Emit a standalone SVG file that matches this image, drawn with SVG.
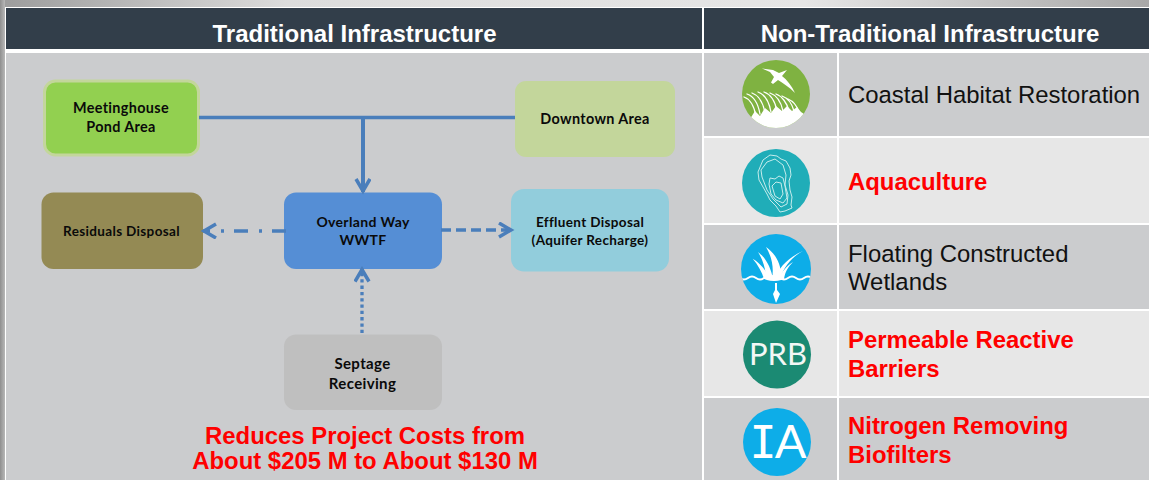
<svg xmlns="http://www.w3.org/2000/svg" width="1149" height="480" viewBox="0 0 1149 480">
<style>
.hd{font:bold 24px "Liberation Sans",Arial,sans-serif;fill:#fff;text-anchor:middle}
.nl{font:bold 13.5px Lato,"Open Sans",sans-serif;fill:#0a0a0a;text-anchor:middle;letter-spacing:.35px}
.n14{font-size:14.4px}
.n15{font-size:15px}
.it{font:23.9px "Liberation Sans",Arial,sans-serif;fill:#111}
.rd{font:bold 23.9px "Liberation Sans",Arial,sans-serif;fill:#f00}
.bt{font:bold 23.9px "Liberation Sans",Arial,sans-serif;fill:#f00;text-anchor:middle}
.cl{fill:#cbccce}.lt{fill:#e7e7e7}
.ic{font:31px Lato,"Open Sans",sans-serif;fill:#f2f7f5;text-anchor:middle}
.cn{fill:none;stroke:#4a7ebb;stroke-width:3.3}
.oy{fill:none;stroke:#c5ecec;stroke-width:1}
.gr{fill:none;stroke:#fff;stroke-width:1.300;stroke-linecap:round}
</style>
<defs>
<linearGradient id="top" x1="0" x2="1" y1="0" y2="0"><stop offset="0" stop-color="#9c9c9c"/><stop offset=".25" stop-color="#dcdcdc"/><stop offset=".7" stop-color="#e6e6e6"/><stop offset="1" stop-color="#a8a8a8"/></linearGradient>
<linearGradient id="lft" x1="0" x2="1" y1="0" y2="0"><stop offset="0" stop-color="#8f8f8f"/><stop offset="1" stop-color="#b8b8b8"/></linearGradient>
<marker id="arr" markerUnits="userSpaceOnUse" markerWidth="18" markerHeight="18" refX="15" refY="8" orient="auto"><path d="M2 1L14 8L2 15" fill="none" stroke="#4a7ebb" stroke-width="3.5"/></marker>
<clipPath id="c1"><circle cx="776" cy="94" r="34"/></clipPath>
<clipPath id="c3"><circle cx="776" cy="269" r="35"/></clipPath>
</defs>
<rect width="1149" height="480" fill="#fff"/>
<rect width="1149" height="7" fill="url(#top)"/>
<rect width="5" height="480" fill="url(#lft)"/>
<rect x="6" y="8" width="696" height="41" fill="#323e4a"/>
<rect x="704" y="8" width="445" height="41" fill="#323e4a"/>
<text class="hd" x="354.500" y="41.500">Traditional Infrastructure</text>
<text class="hd" x="930" y="41.500">Non-Traditional Infrastructure</text>
<rect x="6" y="53" width="696" height="427" class="cl"/>
<g id="row1"><rect x="704" y="53" width="133" height="83" class="cl"/><rect x="839" y="53" width="310" height="83" class="cl"/>
<circle cx="776" cy="94" r="34" fill="#7fb241"/>
<g clip-path="url(#c1)">
<path class="gr" d="M744 97C750 99 754 106 756 116"/>
<path class="gr" d="M747 94C753 96 758 103 760 114"/>
<path class="gr" d="M752 93C758 95 763 102 765 113"/>
<path class="gr" d="M758 92C764 94 769 101 771 112"/>
<path class="gr" d="M764 92C770 94 775 101 777 111"/>
<path class="gr" d="M770 93C776 95 781 102 783 111"/>
<path class="gr" d="M776 94C782 96 787 103 789 111"/>
<path class="gr" d="M782 96C788 98 792 104 794 111"/>
<path class="gr" d="M788 99C793 101 797 106 799 112"/>
<path fill="#fff" d="M740 132L750 119L755 111L760 116L765 108L771 113L776 106L782 111L787 106L792 111L797 107L801 112L807 116L808 132Z"/>
</g>
<path fill="#fff" d="M762 68.500L773 70L779 73L787 70L782 76C787 80 792 86 795 93C789 87 783 83 778 80L773 84L771 82.500L774 77L770 72Z"/>
</g>
<g id="row2"><rect x="704" y="138" width="133" height="85" class="lt"/><rect x="839" y="138" width="310" height="85" class="lt"/>
<circle cx="776" cy="183" r="34" fill="#20adb8"/>
<path class="oy" d="M763 160L770 155L777 156L781 159L786 161L790 168L791 175L789 181L790 190L792 197L791 205L792 208L785 211L780 212L776 206L770 200L767 194L763 187L759 180L758 172Z"/>
<path class="oy" d="M767 162L775 159L783 165L786 175L785 185L788 195L787 204L781 207L773 199L767 190L762 177L761 170Z"/>
<path class="oy" d="M769 184L770 178L775 179L779 176L783 178L785 186L787 198L783 203L776 200L771 194Z"/>
<path class="oy" d="M772 186L776 182L781 183L783 194L780 199L775 196Z"/>
</g>
<g id="row3"><rect x="704" y="225" width="133" height="84" class="cl"/><rect x="839" y="225" width="310" height="84" class="cl"/>
<circle cx="776" cy="269" r="35" fill="#0dade8"/>
<g fill="#fff">
<path d="M752.700 258.700C760 263 766 270 770 279L764 279C762 272 758 265 752.700 258.700Z"/>
<path d="M758 252C766 258 771 268 773 279L766 279C766 270 763 260 758 252Z"/>
<path d="M766 247C776 254 782 265 781 279L772 279C774 268 772 257 766 247Z"/>
<path d="M803 251C793 256 784 266 780 279L775 279C778 268 789 257 803 251Z"/>
<path d="M793 262C788 267 785 272 784 279L779 279C781 272 787 266 793 262Z"/>
<ellipse cx="774" cy="278" rx="10" ry="3"/>
</g>
<g clip-path="url(#c3)"><path d="M740 278q4 3 8 0t8 0 8 0 8 0h8q4 3 8 0t8 0 8 0 8 0" fill="none" stroke="#fff" stroke-width="2"/></g>
<path fill="#fff" d="M775 283L777 283L777 290L780 294L776 303L773 294L775 290Z"/>
</g>
<g id="row4"><rect x="704" y="311" width="133" height="85" class="lt"/><rect x="839" y="311" width="310" height="85" class="lt"/>
<circle cx="777" cy="354.500" r="34" fill="#1b8a73"/>
<text class="ic" x="778" y="365">PRB</text></g>
<g id="row5"><rect x="704" y="398" width="133" height="82" class="cl"/><rect x="839" y="398" width="310" height="82" class="cl"/>
<circle cx="777" cy="442" r="34" fill="#0dade8"/>
<text class="ic" x="778" y="458" style="font-size:47px;fill:#fff"><tspan style="font-family:'DejaVu Sans Mono',monospace;font-size:45px">I</tspan><tspan dx="-2">A</tspan></text></g>
<text class="it" x="848" y="103">Coastal Habitat Restoration</text>
<text class="rd" x="848" y="190">Aquaculture</text>
<text class="it" x="848" y="262">Floating Constructed</text>
<text class="it" x="848" y="290">Wetlands</text>
<text class="rd" x="848" y="348">Permeable Reactive</text>
<text class="rd" x="848" y="377">Barriers</text>
<text class="rd" x="848" y="434">Nitrogen Removing</text>
<text class="rd" x="848" y="463">Biofilters</text>
<g id="meetinghouse"><rect x="44.500" y="81" width="154" height="74" rx="11" fill="#92d050" stroke="#c3d69b" stroke-width="3"/>
<text class="nl n14" x="121" y="113">Meetinghouse</text><text class="nl n14" x="121" y="132">Pond Area</text></g>
<g id="downtown"><rect x="515" y="81" width="160" height="76" rx="11" fill="#c3d69b"/><text class="nl n14" x="595" y="124">Downtown Area</text></g>
<g id="residuals"><rect x="41.500" y="192.500" width="161.500" height="76.500" rx="12" fill="#948a54"/><text class="nl" x="121.500" y="236">Residuals Disposal</text></g>
<g id="overland"><rect x="284" y="192.500" width="158" height="76.500" rx="12" fill="#558ed5"/><text class="nl" x="363" y="227" style="font-size:14px">Overland Way</text><text class="nl" x="363" y="245" style="font-size:14px">WWTF</text></g>
<g id="effluent"><rect x="511" y="189" width="158" height="82.500" rx="13" fill="#92cddc"/><text class="nl" x="590" y="227">Effluent Disposal</text><text class="nl" x="590" y="245">(Aquifer Recharge)</text></g>
<g id="septage"><rect x="284" y="334.500" width="158" height="75.500" rx="12" fill="#bfbfbf"/><text class="nl n15" x="362.500" y="369">Septage</text><text class="nl n15" x="362.500" y="389">Receiving</text></g>
<g id="connectors">
<path class="cn" d="M199 117.500H515"/>
<path class="cn" style="stroke-width:4" d="M363 117.500V192" marker-end="url(#arr)"/>
<path class="cn" d="M286 231H203" stroke-dasharray="14 10 3 11" marker-end="url(#arr)"/>
<path class="cn" d="M441 230H512" stroke-dasharray="10 5" marker-end="url(#arr)"/>
<path class="cn" d="M362 333V268.500" stroke-dasharray="3.300 3" marker-end="url(#arr)"/>
</g>
<text class="bt" x="365" y="444">Reduces Project Costs from</text>
<text class="bt" x="365" y="469">About $205 M to About $130 M</text>
</svg>
